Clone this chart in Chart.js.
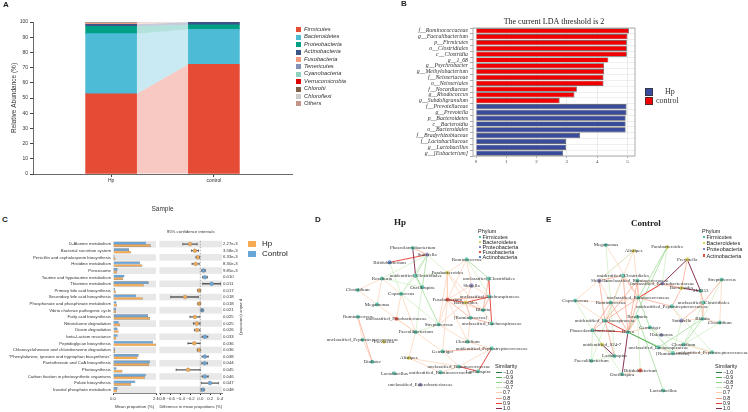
<!DOCTYPE html>
<html>
<head>
<meta charset="utf-8">
<script src="https://cdn.jsdelivr.net/npm/chart.js@4.4.1/dist/chart.umd.min.js"></script>
<style>
  body { margin: 0; background: #fff; width: 748px; height: 412px; position: relative; overflow: hidden;
         font-family: "Liberation Sans", Arial, sans-serif; color: #222; }
  canvas { position: absolute; }
  .t { position: absolute; white-space: nowrap; line-height: 1; }
  .letter { font-weight: bold; font-size: 8px; }
  .sq { position: absolute; }
</style>
</head>
<body>
<canvas id="cA" width="300" height="215" style="left:0;top:0"></canvas>
<canvas id="cB" width="348" height="175" style="left:400px;top:0"></canvas>
<canvas id="cC1" width="160" height="187" style="left:0;top:225px"></canvas>
<canvas id="cC2" width="100" height="187" style="left:155px;top:225px"></canvas>
<canvas id="cD" width="232" height="197" style="left:315px;top:215px"></canvas>
<canvas id="cE" width="201" height="197" style="left:547px;top:215px"></canvas>

<div class="t letter" style="left:3px;top:1px">A</div>
<div class="t letter" style="left:401px;top:0px">B</div>
<div class="t letter" style="left:2px;top:216px">C</div>
<div class="t letter" style="left:315px;top:216px">D</div>
<div class="t letter" style="left:546px;top:216px">E</div>
<div id="legA"></div>
<div id="legB"></div>
<div id="legC"></div>
<div id="legD"></div>
<div id="legE"></div>

<script>
// ==========================================
// DATA
// ==========================================
// A: phylum relative abundance
const phyla = ['Firmicutes', 'Bacteroidetes', 'Proteobacteria', 'Actinobacteria', 'Fusobacteria', 'Tenericutes',
               'Cyanobacteria', 'Verrucomicrobia', 'Chlorobi', 'Chloroflexi', 'Others'];
const phylaColors = ['#E64B35', '#4DBBD5', '#00A087', '#3C5488', '#F39B7F', '#8491B4',
                     '#91D1C2', '#DC0000', '#7E6148', '#CCCCCC', '#C4948C'];
const abundHp = [52.7, 39.6, 4.9, 1.3, 0.8, 0.2, 0.2, 0.1, 0.0, 0.0, 0.2];
const abundControl = [72.2, 23.0, 3.0, 1.6, 0.1, 0.0, 0.0, 0.0, 0.0, 0.0, 0.1];
const sampleNames = ['Hp', 'control'];

// B: LEfSe LDA scores
const ldaTaxa = ['f__Ruminococcaceae', 'g__Faecalibacterium', 'p__Firmicutes', 'o__Clostridiales', 'c__Clostridia',
                 'g__1_68', 'g__Psychrobacter', 'g__Methylobacterium', 'f__Neisseriaceae', 'o__Neisseriales',
                 'f__Nocardiaceae', 'g__Rhodococcus', 'g__Subdoligranulum', 'f__Prevotellaceae', 'g__Prevotella',
                 'p__Bacteroidetes', 'c__Bacteroidia', 'o__Bacteroidales', 'f__Bradyrhizobiaceae',
                 'f__Lactobacillaceae', 'g__Lactobacillus', 'g__[Eubacterium]'];
const ldaScore = [5.05, 5.0, 4.98, 4.98, 4.98, 4.37, 4.23, 4.23, 4.21, 4.21, 3.33, 3.25, 2.76,
                  4.97, 4.97, 4.94, 4.94, 4.94, 3.44, 2.97, 2.97, 2.88];
const ldaGroup = ['control', 'control', 'control', 'control', 'control', 'control', 'control', 'control',
                  'control', 'control', 'control', 'control', 'control', 'Hp', 'Hp', 'Hp', 'Hp', 'Hp', 'Hp', 'Hp', 'Hp', 'Hp'];
const ldaColors = { Hp: '#3A4B9C', control: '#F00000' };

// C: KEGG pathways (STAMP)
const pathways = ['D-Alanine metabolism', 'Bacterial secretion system', 'Penicillin and cephalosporin biosynthesis',
  'Histidine metabolism', 'Peroxisome', 'Taurine and hypotaurine metabolism', 'Thiamine metabolism',
  'Primary bile acid biosynthesis', 'Secondary bile acid biosynthesis', 'Phosphonate and phosphinate metabolism',
  'Vibrio cholerae pathogenic cycle', 'Fatty acid biosynthesis', 'Nitrotoluene degradation', 'Dioxin degradation',
  'beta-Lactam resistance', 'Peptidoglycan biosynthesis', 'Chlorocyclohexane and chlorobenzene degradation',
  '"Phenylalanine, tyrosine and tryptophan biosynthesis"', 'Pantothenate and CoA biosynthesis', 'Photosynthesis',
  'Carbon fixation in photosynthetic organisms', 'Folate biosynthesis', 'Inositol phosphate metabolism'];
const meanHp = [1.84, 0.89, 0.12, 1.43, 0.19, 0.50, 1.50, 0.14, 1.45, 0.19, 0.14, 1.81, 0.34, 0.27, 0.15,
                2.10, 0.10, 1.19, 1.77, 0.46, 1.55, 0.89, 0.19];
const meanControl = [1.62, 0.78, 0.07, 1.33, 0.22, 0.56, 1.74, 0.10, 1.13, 0.17, 0.15, 1.71, 0.27, 0.22, 0.22,
                     1.96, 0.09, 1.25, 1.81, 0.17, 1.60, 1.09, 0.22];
const diffMean = [-0.21, -0.11, -0.05, -0.094, 0.065, 0.094, 0.23, -0.022, -0.31, -0.022, 0.036, -0.11, -0.072,
                  -0.065, 0.094, -0.123, -0.03, 0.094, 0.087, -0.246, 0.094, 0.196, 0.05];
const diffLow = [-0.355, -0.18, -0.087, -0.167, 0.029, 0.043, 0.05, -0.05, -0.6, -0.05, 0.02, -0.21, -0.14,
                 -0.12, 0.036, -0.25, -0.058, 0.036, 0.03, -0.49, 0.036, 0.02, 0.02];
const diffHigh = [-0.065, -0.036, -0.015, -0.022, 0.1, 0.145, 0.41, -0.003, -0.04, -0.002, 0.05, -0.01, -0.007,
                  -0.007, 0.152, -0.005, -0.002, 0.16, 0.145, -0.003, 0.16, 0.37, 0.08];
const pValues = ['2.27e-3', '3.58e-3', '6.33e-3', '8.30e-3', '9.85e-3', '0.010', '0.011', '0.017', '0.018', '0.018',
                 '0.021', '0.025', '0.025', '0.026', '0.033', '0.036', '0.036', '0.038', '0.044', '0.045', '0.046',
                 '0.047', '0.048'];
const colHp = '#F6AA52';
const colControl = '#6AA5D8';

// D / E: co-occurrence networks (layout coordinates)
const dNames = ['Phascolarctobacterium', 'Sutterella', 'Bifidobacterium', 'Ruminococcus', 'Parabacteroides',
  'unidentified_Clostridiales', 'unclassified_Clostridiales', 'Roseburia', 'Oscillospira', 'Shigella', 'Clostridium',
  'Coprococcus', 'Fusobacterium', 'unclassified_Lachnospiraceae', 'Bacteroides', 'Megamonas', 'Blautia',
  'Ruminococcus', 'unclassified_Fusobacteriaceae', '[Ruminococcus]', 'Streptococcus', 'unclassified_Lachnospiraceae',
  'Faecalibacterium', 'unclassified_Peptostreptococcaceae', 'Prevotella', 'Clostridium',
  'unidentified_Peptostreptococcaceae', 'Gemmiger', 'Alistipes', 'Dialister', 'unclassified_Ruminococcaceae',
  'Lactobacillus', 'unidentified_Ruminococcaceae', 'Lachnospira', 'unclassified_Enterobacteriaceae'];
const dX = [412, 427, 388, 468, 448, 415, 491, 380, 422, 473, 355, 400, 448, 492, 467, 375, 485, 355, 395, 472,
            439, 494, 415, 360, 382, 469, 494, 443, 408, 370, 460, 393, 441, 480, 420];
const dY = [245, 252, 260, 257, 271, 274, 277, 277, 286, 284, 289, 293, 299, 296, 302, 304, 310, 317, 319, 318,
            325, 324, 333, 341, 343, 343, 350, 353, 360, 364, 369, 376, 375, 374, 388];
const dPhylum = ['Fi', 'Pr', 'Ac', 'Fi', 'Ba', 'Fi', 'Fi', 'Fi', 'Fi', 'Pr', 'Fi', 'Fi', 'Fu', 'Fi', 'Ba', 'Fi', 'Fi',
                 'Fi', 'Fu', 'Fi', 'Fi', 'Fi', 'Fi', 'Fi', 'Ba', 'Fi', 'Fi', 'Fi', 'Ba', 'Fi', 'Fi', 'Fi', 'Fi', 'Fi', 'Pr'];
const dEdges = [
  [0, 5, 1.0], [2, 1, 0.9], [0, 1, 0.8],
  [1, 8, -0.8], [1, 11, -0.7], [1, 5, -0.8], [5, 11, -0.7], [7, 8, -0.7], [1, 7, -0.7], [5, 20, -0.8], [8, 22, -0.7],
  [11, 20, -0.7], [4, 5, -0.7], [3, 6, -0.8], [3, 13, -0.7], [5, 8, -0.8], [2, 11, -0.7], [1, 4, -0.7],
  [12, 14, 0.9], [33, 26, 0.9], [33, 30, 0.9], [14, 13, 0.9], [6, 21, 0.9], [6, 16, 0.8], [14, 16, 0.8], [14, 19, 0.8],
  [12, 19, 0.8], [13, 16, 0.8], [19, 21, 0.8], [4, 14, 0.7], [4, 12, 0.7], [3, 12, 0.7], [9, 14, 0.7], [12, 20, 0.7],
  [14, 20, 0.7], [16, 21, 0.7], [25, 26, 0.7], [27, 26, 0.8], [30, 27, 0.7], [32, 30, 0.7], [22, 27, 0.7], [28, 30, 0.7],
  [20, 25, 0.7], [18, 15, 0.7], [18, 11, 0.7], [7, 11, 0.7], [15, 10, 0.7], [22, 18, 0.7], [28, 22, 0.7], [17, 29, 0.8],
  [17, 23, 0.7], [7, 15, 0.7], [3, 4, 0.7], [6, 13, 0.8], [9, 13, 0.7], [4, 16, 0.7], [12, 25, 0.7], [11, 22, 0.7],
  [23, 29, 0.7], [12, 13, 0.8], [12, 16, 0.7], [3, 9, 0.7], [9, 12, 0.7], [4, 20, 0.7], [19, 25, 0.7], [12, 27, 0.7],
  [30, 26, 0.7], [18, 22, 0.7], [22, 20, -0.7], [7, 10, 0.7], [28, 32, 0.7]
];

const eNames = ['Megamonas', 'Alistipes', 'Parabacteroides', 'Prevotella', 'Streptococcus', 'unidentified_Clostridiales',
  'Shigella', 'unclassified_Ruminococcaceae', 'unclassified_Enterobacteriaceae', 'Bacteroides', 'SMB53', 'Coprococcus',
  'unclassified_Ruminococcaceae', 'Ruminococcus', 'unclassified_Clostridiales', 'unidentified_Peptostreptococcaceae',
  'Roseburia', 'unidentified_Lachnospiraceae', 'Sutterella', 'Blautia', 'Clostridium', 'Phascolarctobacterium',
  'Gemmiger', 'Dorea', 'Halomonas', 'Clostridium', 'unidentified_S24-7', 'unclassified_Lachnospiraceae',
  'unidentified_Peptostreptococcaceae', '[Ruminococcus]', 'Lachnospira', 'Faecalibacterium', 'Bifidobacterium',
  'Oscillospira', 'Lactobacillus'];
const eX = [604, 633, 668, 689, 725, 622, 597, 637, 663, 683, 703, 572, 638, 609, 706, 673, 637, 603, 683, 705, 723,
            590, 650, 627, 662, 685, 600, 659, 715, 674, 613, 589, 640, 621, 664];
const eY = [242, 248, 244, 257, 278, 274, 279, 279, 282, 287, 290, 300, 297, 302, 302, 306, 317, 321, 321, 319, 323,
            331, 328, 333, 336, 346, 346, 349, 354, 355, 358, 363, 373, 377, 394];
const ePhylum = ['Fi', 'Ba', 'Ba', 'Ba', 'Fi', 'Fi', 'Pr', 'Fi', 'Pr', 'Ba', 'Fi', 'Fi', 'Fi', 'Fi', 'Fi', 'Fi', 'Fi',
                 'Fi', 'Pr', 'Fi', 'Fi', 'Fi', 'Fi', 'Fi', 'Pr', 'Fi', 'Ba', 'Fi', 'Fi', 'Fi', 'Fi', 'Fi', 'Ac', 'Fi', 'Fi'];
const eEdges = [
  [3, 10, 1.0], [3, 8, 1.0], [9, 10, 1.0], [23, 33, 1.0], [26, 30, 1.0],
  [12, 8, 0.9], [17, 23, 0.9], [21, 23, 0.9], [17, 12, 0.8], [17, 7, 0.8], [23, 12, 0.8], [23, 5, 0.8], [13, 12, 0.7],
  [12, 7, 0.8], [8, 9, 0.8], [13, 23, 0.8], [6, 17, 0.8], [6, 13, 0.7], [11, 13, 0.7], [13, 21, 0.8], [17, 21, 0.8],
  [4, 20, 0.7], [4, 14, 0.8], [10, 14, 0.8], [14, 18, 0.8], [19, 18, 0.7], [20, 19, 0.7], [9, 15, 0.8], [15, 18, 0.7],
  [25, 28, 0.7], [29, 25, 0.7], [27, 29, 0.7], [22, 23, 0.7], [16, 23, 0.8], [1, 17, 0.7], [0, 12, 0.7], [1, 12, 0.7],
  [5, 6, 0.8], [17, 30, 0.8], [12, 15, 0.8], [11, 17, 0.7], [7, 9, 0.7], [19, 14, 0.8], [3, 9, 0.8],
  [2, 12, -0.8], [2, 23, -0.8], [16, 34, -0.8], [32, 16, -0.7], [22, 29, -0.8], [14, 25, -0.7], [19, 25, -0.8],
  [18, 29, -0.7], [15, 28, -0.7], [4, 19, -0.7], [20, 25, -0.7], [5, 31, -0.7], [11, 21, -0.7], [24, 28, -0.7],
  [27, 19, -0.8], [26, 33, -0.7], [21, 31, -0.7], [23, 27, -0.9], [23, 29, -0.8], [12, 22, -0.8], [13, 30, -0.7],
  [21, 26, -0.8], [1, 6, -0.7], [0, 13, -0.7], [8, 12, 0.8], [7, 23, 0.8], [1, 11, 0.7], [5, 12, 0.8],
  [10, 19, 0.7], [29, 28, 0.7], [33, 32, 0.7], [30, 31, -0.7], [24, 22, -0.7], [2, 8, -0.7]
];

const simLevels = [-1.0, -0.9, -0.8, -0.7, 0.7, 0.8, 0.9, 1.0];
const simColors = ['#1E7B3C', '#4FAE4F', '#93D488', '#C8EBBA', '#FCCDB0', '#F7987C', '#E5453A', '#84284A'];
const dPhylumNames = ['Firmicutes', 'Bacteroidetes', 'Proteobacteria', 'Fusobacteria', 'Actinobacteria'];
const dPhylumKeys = ['Fi', 'Ba', 'Pr', 'Fu', 'Ac'];
const dPhylumColors = ['#52C2A8', '#D8CF55', '#8C88C4', '#E5503C', '#4B7EC2'];
const ePhylumNames = ['Firmicutes', 'Bacteroidetes', 'Proteobacteria', 'Actinobacteria'];
const ePhylumKeys = ['Fi', 'Ba', 'Pr', 'Ac'];
const ePhylumColors = ['#52C2A8', '#D8CF55', '#8C88C4', '#E5503C'];

// ==========================================
// DEFAULTS + HELPERS
// ==========================================
Chart.defaults.animation = false;
Chart.defaults.responsive = false;
Chart.defaults.devicePixelRatio = 1;
Chart.defaults.plugins.legend.display = false;
Chart.defaults.plugins.tooltip.enabled = false;
Chart.defaults.font.family = '"Liberation Sans", Arial, sans-serif';
Chart.defaults.color = '#333';

const SERIF = '"Liberation Serif", "DejaVu Serif", serif';

function addText(parent, txt, left, top, css) {
  const d = document.createElement('div');
  d.className = 't';
  d.textContent = txt;
  d.style.left = left + 'px';
  d.style.top = top + 'px';
  d.style.cssText += css || '';
  parent.appendChild(d);
  return d;
}
function addBox(parent, left, top, w, h, color) {
  const d = document.createElement('div');
  d.className = 'sq';
  d.style.cssText = `left:${left}px;top:${top}px;width:${w}px;height:${h}px;background:${color}`;
  parent.appendChild(d);
}
function withAlpha(hex, a) {
  const n = parseInt(hex.slice(1), 16);
  return `rgba(${n >> 16},${(n >> 8) & 255},${n & 255},${a})`;
}

// ==========================================
// A. STACKED BARS WITH FLOWS
// ==========================================
const flowPlugin = {
  id: 'flow',
  beforeDatasetsDraw(chart) {
    const ctx = chart.ctx;
    chart.data.datasets.forEach((ds, i) => {
      const m = chart.getDatasetMeta(i);
      const a = m.data[0], b = m.data[1];
      if (!a || !b) return;
      const ax = a.x + a.width / 2, bx = b.x - b.width / 2;
      ctx.save();
      ctx.fillStyle = withAlpha(ds.backgroundColor, 0.3);
      ctx.beginPath();
      ctx.moveTo(ax, a.y); ctx.lineTo(bx, b.y); ctx.lineTo(bx, b.base); ctx.lineTo(ax, a.base);
      ctx.closePath(); ctx.fill();
      ctx.restore();
    });
  }
};

new Chart(document.getElementById('cA'), {
  type: 'bar',
  data: {
    datasets: phyla.map((p, i) => ({
      label: p,
      data: [{ x: 1, y: abundHp[i] }, { x: 2, y: abundControl[i] }],
      backgroundColor: phylaColors[i],
      barThickness: 51
    }))
  },
  options: {
    layout: { padding: { left: 0, top: 22, right: 8, bottom: 0 } },
    scales: {
      x: {
        type: 'linear', stacked: true, offset: false, bounds: 'data', min: 0.24, max: 2.76,
        afterBuildTicks: s => { s.ticks = [{ value: 1 }, { value: 2 }]; },
        afterFit: s => { s.height = 41; },
        ticks: { callback: v => sampleNames[v - 1], font: { size: 5 }, padding: 1, color: '#333' },
        grid: { drawOnChartArea: false, offset: false, tickLength: 3, color: '#444' },
        border: { color: '#444', width: 0.8 },
        title: { display: true, text: 'Sample', font: { size: 6.5 }, padding: { bottom: 2 }, color: '#333' }
      },
      y: {
        stacked: true, min: 0, max: 100,
        afterFit: s => { s.width = 33; },
        ticks: { stepSize: 10, font: { size: 5 }, padding: 2, color: '#333' },
        grid: { drawOnChartArea: false, tickLength: 3, color: '#444' },
        border: { color: '#444', width: 0.8 },
        title: { display: true, text: 'Relative Abundance (%)', font: { size: 6.5 }, padding: { top: 10 }, color: '#333' }
      }
    }
  },
  plugins: [flowPlugin]
});

const legA = document.getElementById('legA');
phyla.forEach((p, i) => {
  addBox(legA, 296, 27.4 + i * 7.4, 5, 5, phylaColors[i]);
  addText(legA, p, 304, 26.9 + i * 7.4, 'font-size:5.8px;font-style:italic;color:#333');
});

// ==========================================
// B. LDA SCORES
// ==========================================
const boxPlugin = {
  id: 'panelBox',
  afterDatasetsDraw(chart, args, opts) {
    const { left, top, right, bottom } = chart.chartArea;
    const ctx = chart.ctx;
    ctx.save();
    ctx.strokeStyle = opts.color || '#999';
    ctx.lineWidth = 0.8;
    ctx.strokeRect(left, top, right - left, bottom - top);
    ctx.restore();
  }
};

new Chart(document.getElementById('cB'), {
  type: 'bar',
  data: {
    labels: ldaTaxa,
    datasets: [{
      data: ldaScore,
      backgroundColor: ldaGroup.map(g => ldaColors[g]),
      borderColor: '#4a4a4a',
      borderWidth: 0.7,
      barPercentage: 0.9,
      categoryPercentage: 1
    }]
  },
  options: {
    indexAxis: 'y',
    layout: { padding: { left: 0, top: 17, right: 113, bottom: 0 } },
    plugins: {
      title: { display: true, text: 'The current LDA threshold is 2', font: { family: SERIF, size: 8, weight: 'normal' },
               padding: { top: 0, bottom: 1.4 }, color: '#222', fullSize: false },
      panelBox: { color: '#9a9a9a' }
    },
    scales: {
      x: {
        min: -0.1, max: 5.25,
        afterBuildTicks: s => { s.ticks = [0, 1, 2, 3, 4, 5].map(v => ({ value: v })); },
        afterFit: s => { s.height = 19; },
        ticks: { font: { family: SERIF, size: 5 }, padding: 1, color: '#444' },
        grid: { color: '#dedede', lineWidth: 0.6, tickLength: 2, tickColor: '#777' },
        border: { display: false }
      },
      y: {
        afterFit: s => { s.width = 73; },
        ticks: { font: { family: SERIF, size: 5.8, style: 'italic' }, padding: 2, color: '#333', autoSkip: false },
        grid: { color: '#e4e4e4', lineWidth: 0.6, tickLength: 3, tickColor: '#777' },
        border: { display: false }
      }
    }
  },
  plugins: [boxPlugin]
});

const legB = document.getElementById('legB');
addBox(legB, 645, 88, 8, 8, ldaColors.Hp);
addBox(legB, 645, 97, 8, 8, ldaColors.control);
legB.querySelectorAll('.sq').forEach(s => { s.style.boxShadow = 'inset 0 0 0 0.7px #333'; });
addText(legB, 'Hp', 665, 88, `font-family:${SERIF};font-size:8px;color:#333`);
addText(legB, 'control', 656, 97, `font-family:${SERIF};font-size:8px;color:#333`);

// ==========================================
// C. STAMP EXTENDED ERROR BAR
// ==========================================
const stripePlugin = {
  id: 'stripes',
  beforeDatasetsDraw(chart) {
    const y = chart.scales.y;
    const { left, right } = chart.chartArea;
    const n = chart.data.labels.length;
    const h = (y.bottom - y.top) / n;
    const ctx = chart.ctx;
    ctx.save();
    ctx.fillStyle = '#E8E8E8';
    for (let i = 0; i < n; i += 2) {
      const c = y.getPixelForValue(i);
      ctx.fillRect(left, c - h / 2, right - left, h);
    }
    const zero = chart.options.plugins.stripes && chart.options.plugins.stripes.zeroLine;
    if (zero) {
      const x0 = chart.scales.x.getPixelForValue(0);
      ctx.strokeStyle = '#777';
      ctx.lineWidth = 0.6;
      ctx.setLineDash([1.5, 1.5]);
      ctx.beginPath(); ctx.moveTo(x0, y.top); ctx.lineTo(x0, y.bottom); ctx.stroke();
    }
    ctx.restore();
  }
};

new Chart(document.getElementById('cC1'), {
  type: 'bar',
  data: {
    labels: pathways,
    datasets: [
      { label: 'Control', data: meanControl, backgroundColor: colControl, borderColor: '#3c3c3c', borderWidth: 0.4,
        categoryPercentage: 0.8, barPercentage: 1 },
      { label: 'Hp', data: meanHp, backgroundColor: colHp, borderColor: '#3c3c3c', borderWidth: 0.4,
        categoryPercentage: 0.8, barPercentage: 1 }
    ]
  },
  options: {
    indexAxis: 'y',
    layout: { padding: { left: 0, top: 16, right: 3, bottom: 0 } },
    scales: {
      x: {
        min: 0, max: 2.1,
        afterBuildTicks: s => { s.ticks = [{ value: 0 }, { value: 2.1 }]; },
        afterFit: s => { s.height = 19; },
        ticks: { callback: v => v.toFixed(1), font: { size: 4.3 }, padding: 1, color: '#333' },
        grid: { drawOnChartArea: false, tickLength: 2, color: '#333' },
        border: { color: '#333', width: 0.6 },
        title: { display: true, text: 'Mean proportion (%)', font: { size: 4.3 }, padding: { bottom: 3 }, color: '#333' }
      },
      y: {
        afterFit: s => { s.width = 113; },
        ticks: { font: { size: 4.3 }, padding: 2, color: '#333', autoSkip: false },
        grid: { display: false, drawTicks: false },
        border: { display: false }
      }
    }
  },
  plugins: [stripePlugin]
});

const capPlugin = {
  id: 'caps',
  afterDatasetsDraw(chart) {
    const ctx = chart.ctx;
    const meta = chart.getDatasetMeta(1);
    ctx.save();
    ctx.strokeStyle = '#555';
    ctx.lineWidth = 0.6;
    meta.data.forEach(el => {
      [el.x, el.base].forEach(px => {
        ctx.beginPath(); ctx.moveTo(px, el.y - 1.4); ctx.lineTo(px, el.y + 1.4); ctx.stroke();
      });
    });
    ctx.restore();
  }
};

new Chart(document.getElementById('cC2'), {
  type: 'bar',
  data: {
    labels: pValues,
    datasets: [
      { type: 'line', indexAxis: 'y', data: diffMean, showLine: false, pointRadius: 2,
        pointBackgroundColor: diffMean.map(v => v < 0 ? colHp : colControl),
        pointBorderColor: '#8a8a8a', pointBorderWidth: 0.4, order: 0 },
      { data: diffLow.map((l, i) => [l, diffHigh[i]]), backgroundColor: '#5a5a5a', barThickness: 0.7, order: 1 }
    ]
  },
  options: {
    indexAxis: 'y',
    layout: { padding: { left: 0, top: 4, right: 0, bottom: 0 } },
    plugins: {
      title: { display: true, text: '95% confidence intervals', font: { size: 4.3, weight: 'normal' },
               padding: { top: 0, bottom: 6.6 }, color: '#333', fullSize: false },
      stripes: { zeroLine: true }
    },
    scales: {
      x: {
        min: -0.83, max: 0.44,
        afterBuildTicks: s => { s.ticks = [-0.8, -0.6, -0.4, -0.2, 0, 0.2, 0.4].map(v => ({ value: v })); },
        afterFit: s => { s.height = 19; },
        ticks: { callback: v => (v < -0.001 ? '\u2212' : '') + Math.abs(v).toFixed(1), font: { size: 4.3 }, padding: 1,
                 color: '#333', maxRotation: 0, autoSkip: false },
        grid: { drawOnChartArea: false, tickLength: 2, color: '#333' },
        border: { color: '#333', width: 0.6 },
        title: { display: true, text: 'Difference in mean proportions (%)', font: { size: 4.3 }, padding: { bottom: 3 }, color: '#333' }
      },
      y: {
        position: 'right',
        afterFit: s => { s.width = 33; },
        ticks: { font: { size: 4.3 }, padding: 1, color: '#333', autoSkip: false },
        grid: { display: false, drawTicks: false },
        border: { display: false },
        title: { display: true, text: 'p-value (corrected)', font: { size: 4.3 }, padding: { top: 11 }, color: '#333' }
      }
    }
  },
  plugins: [stripePlugin, capPlugin]
});

const legC = document.getElementById('legC');
addBox(legC, 248, 241, 8, 5.5, colHp);
addBox(legC, 248, 251, 8, 5.5, colControl);
addText(legC, 'Hp', 262, 239.5, 'font-size:8px;color:#222');
addText(legC, 'Control', 262, 249.5, 'font-size:8px;color:#222');

// ==========================================
// D + E. NETWORKS
// ==========================================
const nodeLabelPlugin = {
  id: 'nodeLabels',
  afterDatasetsDraw(chart, args, opts) {
    if (!opts.names) return;
    const meta = chart.getDatasetMeta(0);
    const ctx = chart.ctx;
    ctx.save();
    ctx.font = `5px ${SERIF}`;
    ctx.fillStyle = '#333';
    ctx.textAlign = 'center';
    ctx.textBaseline = 'middle';
    meta.data.forEach((p, i) => ctx.fillText(opts.names[i], p.x, p.y));
    ctx.restore();
  }
};

function simColor(s) {
  return simColors[simLevels.indexOf(s)];
}

function drawNetwork(id, left, top, w, h, names, xs, ys, phy, keys, colors, edges) {
  const nodes = {
    type: 'scatter',
    data: xs.map((x, i) => ({ x: x, y: ys[i] })),
    pointRadius: 2.1,
    pointBackgroundColor: phy.map(p => withAlpha(colors[keys.indexOf(p)], 0.9)),
    pointBorderColor: 'rgba(255,255,255,0.6)',
    pointBorderWidth: 0.3,
    order: 0
  };
  const links = edges.map(e => ({
    type: 'line',
    data: [{ x: xs[e[0]], y: ys[e[0]] }, { x: xs[e[1]], y: ys[e[1]] }],
    borderColor: withAlpha(simColor(e[2]), 0.95),
    borderWidth: Math.abs(e[2]) >= 0.9 ? 1.0 : 0.7,
    pointRadius: 0,
    order: Math.abs(e[2]) >= 0.9 ? 1 : 2
  }));
  new Chart(document.getElementById(id), {
    type: 'scatter',
    data: { datasets: [nodes].concat(links) },
    options: {
      layout: { padding: 0 },
      plugins: { nodeLabels: { names: names } },
      scales: {
        x: { type: 'linear', display: false, min: left, max: left + w },
        y: { type: 'linear', display: false, min: top, max: top + h, reverse: true }
      }
    },
    plugins: [nodeLabelPlugin]
  });
}

drawNetwork('cD', 315, 215, 232, 197, dNames, dX, dY, dPhylum, dPhylumKeys, dPhylumColors, dEdges);
drawNetwork('cE', 547, 215, 201, 197, eNames, eX, eY, ePhylum, ePhylumKeys, ePhylumColors, eEdges);

function networkLegend(el, title, tx, ty, px, py, step, pNames, pColors, sx, sy) {
  addText(el, title, tx, ty, `font-family:${SERIF};font-size:9px;font-weight:bold;color:#222`);
  addText(el, 'Phylum', px - 3, py - 3, 'font-size:5.5px;color:#222');
  pNames.forEach((n, i) => {
    const y = py + 3 + i * step;
    addBox(el, px - 2, y + 0.7, 2.4, 2.4, pColors[i]);
    addText(el, n, px + 1.5, y, 'font-size:5.5px;color:#222');
  });
  addText(el, 'Similarity', sx, sy, 'font-size:5.5px;color:#222');
  simLevels.forEach((s, i) => {
    const y = sy + 6 + i * 5.1;
    addBox(el, sx + 0.5, y + 2, 6, 0.9, simColors[i]);
    addText(el, (s < 0 ? '\u2212' : '') + Math.abs(s).toFixed(1), sx + 8, y, 'font-size:5.2px;color:#222');
  });
}
networkLegend(document.getElementById('legD'), 'Hp', 394, 218, 481, 232, 5, dPhylumNames, dPhylumColors, 495, 364);
networkLegend(document.getElementById('legE'), 'Control', 631, 219, 705, 232, 6.2, ePhylumNames, ePhylumColors, 715, 364);
</script>
</body>
</html>
